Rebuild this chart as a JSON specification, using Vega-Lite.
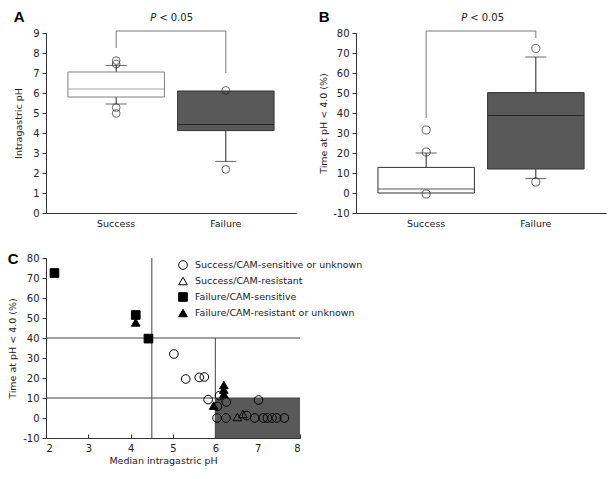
{
  "$schema": "https://vega.github.io/schema/vega-lite/v6.json",
  "padding": {"left": 7, "top": 10, "right": 5, "bottom": 5},
  "datasets": {
    "boxA": [
      {"group": "Success", "lower": 5.45, "q1": 5.8, "median": 6.2, "q3": 7.05, "upper": 7.38},
      {"group": "Failure", "lower": 2.58, "q1": 4.12, "median": 4.42, "q3": 6.1, "upper": 6.1}
    ],
    "outA": [
      {"group": "Success", "value": 7.62},
      {"group": "Success", "value": 7.45},
      {"group": "Success", "value": 5.27},
      {"group": "Success", "value": 4.98},
      {"group": "Failure", "value": 6.13},
      {"group": "Failure", "value": 2.18}
    ],
    "legA": [
      {"group": "Success", "bottom": 8.25, "top": 9.1},
      {"group": "Failure", "bottom": 7.0, "top": 9.1}
    ],
    "boxB": [
      {"group": "Success", "lower": 0, "q1": 0, "median": 2, "q3": 12.8, "upper": 20},
      {"group": "Failure", "lower": 7.2, "q1": 12, "median": 38.7, "q3": 50.2, "upper": 68}
    ],
    "outB": [
      {"group": "Success", "value": 31.5},
      {"group": "Success", "value": 20.5},
      {"group": "Success", "value": -0.5},
      {"group": "Failure", "value": 72.3},
      {"group": "Failure", "value": 5.5}
    ],
    "legB": [
      {"group": "Success", "bottom": 37.5, "top": 81},
      {"group": "Failure", "bottom": 77.5, "top": 81}
    ],
    "zones": [
      {"x": 4.5, "x2": 4.5, "y": -10, "y2": 80},
      {"x": 6, "x2": 6, "y": -10, "y2": 40},
      {"x": 2, "x2": 8, "y": 40, "y2": 40},
      {"x": 2, "x2": 8, "y": 10, "y2": 10}
    ],
    "pts": [
      {"ph": 5.02, "time": 32, "cat": "Success/CAM-sensitive or unknown"},
      {"ph": 5.3, "time": 19.5, "cat": "Success/CAM-sensitive or unknown"},
      {"ph": 5.62, "time": 20.3, "cat": "Success/CAM-sensitive or unknown"},
      {"ph": 5.74, "time": 20.5, "cat": "Success/CAM-sensitive or unknown"},
      {"ph": 5.83, "time": 9.2, "cat": "Success/CAM-sensitive or unknown"},
      {"ph": 6.05, "time": 5.8, "cat": "Success/CAM-sensitive or unknown"},
      {"ph": 6.1, "time": 11.2, "cat": "Success/CAM-sensitive or unknown"},
      {"ph": 6.26, "time": 8, "cat": "Success/CAM-sensitive or unknown"},
      {"ph": 6.04, "time": 0, "cat": "Success/CAM-sensitive or unknown"},
      {"ph": 6.25, "time": 0, "cat": "Success/CAM-sensitive or unknown"},
      {"ph": 6.74, "time": 1.2, "cat": "Success/CAM-sensitive or unknown"},
      {"ph": 6.93, "time": 0, "cat": "Success/CAM-sensitive or unknown"},
      {"ph": 7.02, "time": 9, "cat": "Success/CAM-sensitive or unknown"},
      {"ph": 7.13, "time": 0, "cat": "Success/CAM-sensitive or unknown"},
      {"ph": 7.23, "time": 0, "cat": "Success/CAM-sensitive or unknown"},
      {"ph": 7.34, "time": 0, "cat": "Success/CAM-sensitive or unknown"},
      {"ph": 7.45, "time": 0, "cat": "Success/CAM-sensitive or unknown"},
      {"ph": 7.63, "time": 0, "cat": "Success/CAM-sensitive or unknown"},
      {"ph": 6.52, "time": 0.5, "cat": "Success/CAM-resistant"},
      {"ph": 6.65, "time": 2, "cat": "Success/CAM-resistant"},
      {"ph": 2.2, "time": 72.5, "cat": "Failure/CAM-sensitive"},
      {"ph": 4.12, "time": 51.5, "cat": "Failure/CAM-sensitive"},
      {"ph": 4.42, "time": 39.7, "cat": "Failure/CAM-sensitive"},
      {"ph": 4.12, "time": 47.8, "cat": "Failure/CAM-resistant or unknown"},
      {"ph": 5.96, "time": 6.2, "cat": "Failure/CAM-resistant or unknown"},
      {"ph": 6.2, "time": 16.5, "cat": "Failure/CAM-resistant or unknown"},
      {"ph": 6.2, "time": 14.2, "cat": "Failure/CAM-resistant or unknown"},
      {"ph": 6.2, "time": 12, "cat": "Failure/CAM-resistant or unknown"}
    ]
  },
  "config": {
    "font": "DejaVu Sans",
    "view": {"stroke": null},
    "axis": {
      "grid": false,
      "labelFont": "DejaVu Sans",
      "labelFontSize": 10,
      "labelColor": "#222",
      "labelOverlap": false,
      "titleFont": "DejaVu Sans",
      "titleFontSize": 9.5,
      "titleFontWeight": "normal",
      "titleColor": "#222",
      "domainColor": "#333",
      "tickColor": "#333",
      "tickSize": 4,
      "labelPadding": 3
    },
    "title": {"font": "Liberation Sans", "fontSize": 15, "fontWeight": "bold", "anchor": "start", "frame": "bounds", "color": "#000"}
  },
  "spacing": 24,
  "resolve": {"scale": {"fill": "independent", "stroke": "independent", "color": "independent", "shape": "independent"}, "legend": {"fill": "independent", "shape": "independent", "stroke": "independent"}},
  "vconcat": [
    {
      "spacing": 22,
      "resolve": {"scale": {"fill": "independent", "stroke": "independent", "color": "independent"}},
      "hconcat": [
        {
          "title": {"text": "A", "offset": -12},
          "width": 250,
          "height": 180,
          "layer": [
            {
              "data": {"name": "boxA"},
              "mark": {"type": "rule", "color": "#222"},
              "encoding": {
                "x": {"field": "group", "type": "nominal", "sort": ["Success", "Failure"],
                  "scale": {"domain": ["Success", "Failure"], "paddingInner": 0.12, "paddingOuter": 0.2},
                  "axis": {"title": null, "labelAngle": 0, "ticks": false, "labelPadding": 5, "labelFontSize": 9.5}},
                "y": {"field": "lower", "type": "quantitative", "scale": {"domain": [0, 9], "nice": false},
                  "axis": {"title": "Intragastric pH", "values": [0, 1, 2, 3, 4, 5, 6, 7, 8, 9], "tickCount": 10, "labelOverlap": false, "titlePadding": 9}},
                "y2": {"field": "upper"}
              }
            },
            {
              "data": {"name": "boxA"},
              "mark": {"type": "bar", "strokeWidth": 1},
              "encoding": {
                "x": {"field": "group", "type": "nominal"},
                "y": {"field": "q1", "type": "quantitative"},
                "y2": {"field": "q3"},
                "fill": {"field": "group", "type": "nominal", "scale": {"domain": ["Success", "Failure"], "range": ["#ffffff", "#595959"]}, "legend": null},
                "stroke": {"field": "group", "type": "nominal", "scale": {"domain": ["Success", "Failure"], "range": ["#808080", "#333333"]}, "legend": null}
              }
            },
            {
              "data": {"name": "boxA"},
              "mark": {"type": "tick", "orient": "horizontal", "size": 96, "thickness": 1},
              "encoding": {
                "x": {"field": "group", "type": "nominal"},
                "y": {"field": "median", "type": "quantitative"},
                "color": {"field": "group", "type": "nominal", "scale": {"domain": ["Success", "Failure"], "range": ["#808080", "#111111"]}, "legend": null}
              }
            },
            {
              "data": {"name": "boxA"},
              "transform": [
                {"fold": ["lower", "upper"], "as": ["which", "cap"]},
                {"filter": "datum.cap != datum.q1 && datum.cap != datum.q3"}
              ],
              "mark": {"type": "tick", "orient": "horizontal", "size": 21, "thickness": 1, "color": "#222"},
              "encoding": {
                "x": {"field": "group", "type": "nominal"},
                "y": {"field": "cap", "type": "quantitative"}
              }
            },
            {
              "data": {"name": "outA"},
              "mark": {"type": "point", "shape": "circle", "size": 60, "stroke": "#222", "strokeWidth": 1, "filled": false},
              "encoding": {
                "x": {"field": "group", "type": "nominal"},
                "y": {"field": "value", "type": "quantitative"}
              }
            },
            {
              "data": {"name": "legA"},
              "mark": {"type": "rule", "color": "#777"},
              "encoding": {
                "x": {"field": "group", "type": "nominal"},
                "y": {"field": "bottom", "type": "quantitative"},
                "y2": {"field": "top"}
              }
            },
            {
              "data": {"values": [{}]},
              "mark": {"type": "rule", "color": "#777"},
              "encoding": {
                "x": {"datum": "Success"},
                "x2": {"datum": "Failure"},
                "y": {"datum": 9.1}
              }
            },
            {
              "data": {"values": [{"label": "P"}]},
              "mark": {"type": "text", "fontStyle": "italic", "fontSize": 10, "align": "center", "dx": 37, "color": "#222"},
              "encoding": {"x": {"datum": "Success"}, "y": {"datum": 9.75}, "text": {"field": "label"}}
            },
            {
              "data": {"values": [{"label": "< 0.05"}]},
              "mark": {"type": "text", "fontSize": 10, "align": "left", "dx": 43, "color": "#222"},
              "encoding": {"x": {"datum": "Success"}, "y": {"datum": 9.75}, "text": {"field": "label"}}
            }
          ]
        },
        {
          "title": {"text": "B", "offset": -12},
          "width": 250,
          "height": 180,
          "layer": [
            {
              "data": {"name": "boxB"},
              "mark": {"type": "rule", "color": "#222"},
              "encoding": {
                "x": {"field": "group", "type": "nominal", "sort": ["Success", "Failure"],
                  "scale": {"domain": ["Success", "Failure"], "paddingInner": 0.12, "paddingOuter": 0.2},
                  "axis": {"title": null, "labelAngle": 0, "ticks": false, "labelPadding": 5, "labelFontSize": 9.5}},
                "y": {"field": "lower", "type": "quantitative", "scale": {"domain": [-10, 80], "nice": false},
                  "axis": {"title": "Time at pH < 4.0 (%)", "values": [-10, 0, 10, 20, 30, 40, 50, 60, 70, 80], "tickCount": 10, "labelOverlap": false, "labelExpr": "'' + datum.value", "titlePadding": 4}},
                "y2": {"field": "upper"}
              }
            },
            {
              "data": {"name": "boxB"},
              "mark": {"type": "bar", "strokeWidth": 1},
              "encoding": {
                "x": {"field": "group", "type": "nominal"},
                "y": {"field": "q1", "type": "quantitative"},
                "y2": {"field": "q3"},
                "fill": {"field": "group", "type": "nominal", "scale": {"domain": ["Success", "Failure"], "range": ["#ffffff", "#595959"]}, "legend": null},
                "stroke": {"field": "group", "type": "nominal", "scale": {"domain": ["Success", "Failure"], "range": ["#333333", "#333333"]}, "legend": null}
              }
            },
            {
              "data": {"name": "boxB"},
              "mark": {"type": "tick", "orient": "horizontal", "size": 96, "thickness": 1, "color": "#111"},
              "encoding": {
                "x": {"field": "group", "type": "nominal"},
                "y": {"field": "median", "type": "quantitative"}
              }
            },
            {
              "data": {"name": "boxB"},
              "transform": [
                {"fold": ["lower", "upper"], "as": ["which", "cap"]},
                {"filter": "datum.cap != datum.q1 && datum.cap != datum.q3"}
              ],
              "mark": {"type": "tick", "orient": "horizontal", "size": 21, "thickness": 1, "color": "#222"},
              "encoding": {
                "x": {"field": "group", "type": "nominal"},
                "y": {"field": "cap", "type": "quantitative"}
              }
            },
            {
              "data": {"name": "outB"},
              "mark": {"type": "point", "shape": "circle", "size": 65, "stroke": "#222", "strokeWidth": 1, "filled": false},
              "encoding": {
                "x": {"field": "group", "type": "nominal"},
                "y": {"field": "value", "type": "quantitative"}
              }
            },
            {
              "data": {"name": "legB"},
              "mark": {"type": "rule", "color": "#777"},
              "encoding": {
                "x": {"field": "group", "type": "nominal"},
                "y": {"field": "bottom", "type": "quantitative"},
                "y2": {"field": "top"}
              }
            },
            {
              "data": {"values": [{}]},
              "mark": {"type": "rule", "color": "#777"},
              "encoding": {
                "x": {"datum": "Success"},
                "x2": {"datum": "Failure"},
                "y": {"datum": 81}
              }
            },
            {
              "data": {"values": [{"label": "P"}]},
              "mark": {"type": "text", "fontStyle": "italic", "fontSize": 10, "align": "center", "dx": 38, "color": "#222"},
              "encoding": {"x": {"datum": "Success"}, "y": {"datum": 87.5}, "text": {"field": "label"}}
            },
            {
              "data": {"values": [{"label": "< 0.05"}]},
              "mark": {"type": "text", "fontSize": 10, "align": "left", "dx": 44, "color": "#222"},
              "encoding": {"x": {"datum": "Success"}, "y": {"datum": 87.5}, "text": {"field": "label"}}
            }
          ]
        }
      ]
    },
    {
      "title": {"text": "C", "offset": -14},
      "width": 254,
      "height": 180,
      "layer": [
        {
          "data": {"values": [{"x": 6, "x2": 8, "y": -10, "y2": 10}]},
          "mark": {"type": "rect", "color": "#595959"},
          "encoding": {
            "x": {"field": "x", "type": "quantitative", "scale": {"domain": [2, 8], "nice": false},
              "axis": {"title": "Median intragastric pH", "values": [2, 3, 4, 5, 6, 7, 8], "titlePadding": 2, "titleX": 117, "tickSize": -4, "labelPadding": 9}},
            "x2": {"field": "x2"},
            "y": {"field": "y", "type": "quantitative", "scale": {"domain": [-10, 80], "nice": false},
              "axis": {"title": "Time at pH < 4.0 (%)", "values": [-10, 0, 10, 20, 30, 40, 50, 60, 70, 80], "tickCount": 10, "labelOverlap": false, "labelExpr": "'' + datum.value", "titlePadding": 5}},
            "y2": {"field": "y2"}
          }
        },
        {
          "data": {"name": "zones"},
          "mark": {"type": "rule", "color": "#444", "strokeWidth": 1},
          "encoding": {
            "x": {"field": "x", "type": "quantitative"},
            "x2": {"field": "x2"},
            "y": {"field": "y", "type": "quantitative"},
            "y2": {"field": "y2"}
          }
        },
        {
          "data": {"name": "pts"},
          "mark": {"type": "point", "filled": true, "stroke": "#000", "strokeWidth": 1, "size": 75, "opacity": 1},
          "encoding": {
            "x": {"field": "ph", "type": "quantitative"},
            "y": {"field": "time", "type": "quantitative"},
            "shape": {"field": "cat", "type": "nominal",
              "scale": {"domain": ["Success/CAM-sensitive or unknown", "Success/CAM-resistant", "Failure/CAM-sensitive", "Failure/CAM-resistant or unknown"],
                "range": ["circle", "triangle-up", "square", "triangle-up"]},
              "legend": {"title": null, "orient": "none", "legendX": 132, "legendY": 2, "labelFont": "DejaVu Sans", "labelFontSize": 9.5, "labelColor": "#222", "labelLimit": 400, "rowPadding": 3, "symbolSize": 75, "symbolStrokeColor": "#000", "symbolStrokeWidth": 1, "labelOffset": 7}},
            "fill": {"field": "cat", "type": "nominal",
              "scale": {"domain": ["Success/CAM-sensitive or unknown", "Success/CAM-resistant", "Failure/CAM-sensitive", "Failure/CAM-resistant or unknown"],
                "range": ["transparent", "transparent", "#000000", "#000000"]},
              "legend": {"title": null, "orient": "none", "legendX": 132, "legendY": 2, "labelFont": "DejaVu Sans", "labelFontSize": 9.5, "labelColor": "#222", "labelLimit": 400, "rowPadding": 3, "symbolSize": 75, "symbolStrokeColor": "#000", "symbolStrokeWidth": 1, "labelOffset": 7}},
            "stroke": {"field": "cat", "type": "nominal",
              "scale": {"domain": ["Success/CAM-sensitive or unknown", "Success/CAM-resistant", "Failure/CAM-sensitive", "Failure/CAM-resistant or unknown"],
                "range": ["#000000", "#000000", "#000000", "#000000"]},
              "legend": {"title": null, "orient": "none", "legendX": 132, "legendY": 2, "labelFont": "DejaVu Sans", "labelFontSize": 9.5, "labelColor": "#222", "labelLimit": 400, "rowPadding": 3, "symbolSize": 75, "symbolStrokeColor": "#000", "symbolStrokeWidth": 1, "labelOffset": 7}}
          }
        }
      ]
    }
  ]
}
